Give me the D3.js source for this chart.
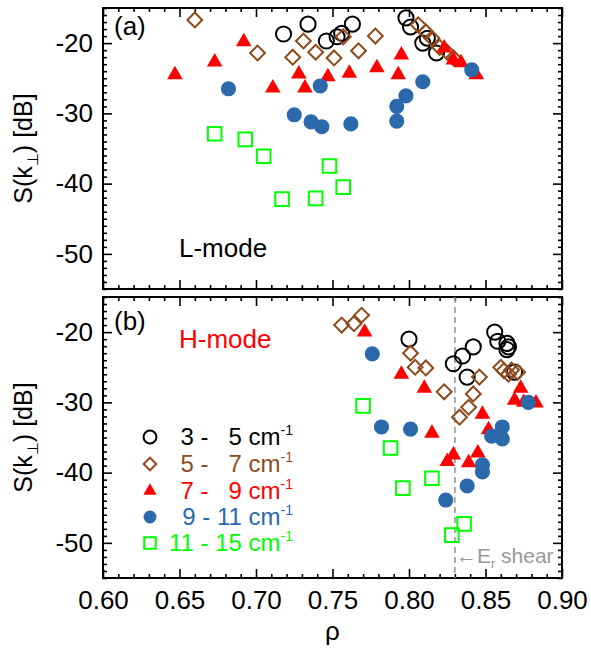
<!DOCTYPE html>
<html>
<head>
<meta charset="utf-8">
<script src="https://cdn.jsdelivr.net/npm/d3@7"></script>
<style>
  body { margin: 0; background: #fff; }
  text { font-family: "Liberation Sans", Arial, sans-serif; }
</style>
</head>
<body>
<div id="chart"></div>
<script>
// ---- data: panel (a) L-mode ----
const lRho_3_5 = [0.718, 0.734, 0.746, 0.753, 0.756, 0.763, 0.798, 0.801, 0.809, 0.812, 0.818];
const lS_3_5   = [-18.7, -17.3, -19.7, -19.1, -18.6, -17.3, -16.4, -17.7, -20.0, -19.3, -21.4];
const lRho_5_7 = [0.660, 0.701, 0.724, 0.731, 0.739, 0.751, 0.757, 0.767, 0.778, 0.806, 0.811, 0.815, 0.820, 0.825, 0.829];
const lS_5_7   = [-16.7, -21.4, -22.0, -19.7, -21.3, -22.1, -19.1, -21.1, -19.0, -17.4, -18.4, -19.3, -20.6, -21.3, -22.1];
const lRho_7_9 = [0.647, 0.673, 0.692, 0.711, 0.728, 0.732, 0.747, 0.761, 0.779, 0.795, 0.793, 0.823, 0.829, 0.834, 0.844];
const lS_7_9   = [-24.5, -22.7, -19.8, -26.4, -24.4, -26.4, -24.8, -24.3, -23.5, -21.7, -24.5, -20.7, -22.4, -22.8, -24.5];
const lRho_9_11 = [0.682, 0.725, 0.736, 0.743, 0.742, 0.762, 0.792, 0.792, 0.798, 0.809, 0.841];
const lS_9_11   = [-26.5, -30.2, -31.2, -31.9, -26.1, -31.5, -29.0, -31.1, -27.5, -25.5, -23.8];
const lRho_11_15 = [0.673, 0.693, 0.705, 0.717, 0.739, 0.748, 0.757];
const lS_11_15   = [-32.9, -33.7, -36.1, -42.2, -42.1, -37.5, -40.5];

// ---- data: panel (b) H-mode ----
const hRho_3_5 = [0.800, 0.829, 0.835, 0.842, 0.838, 0.856, 0.858, 0.864, 0.865, 0.864, 0.869];
const hS_3_5   = [-21.0, -24.5, -23.4, -22.1, -26.4, -20.0, -21.3, -21.6, -22.1, -22.5, -25.7];
const hRho_5_7 = [0.756, 0.764, 0.769, 0.801, 0.804, 0.811, 0.823, 0.833, 0.839, 0.842, 0.846, 0.860, 0.862, 0.865, 0.867, 0.871];
const hS_5_7   = [-19.0, -18.8, -17.6, -23.0, -25.0, -25.1, -28.5, -32.1, -30.7, -28.8, -26.4, -25.0, -25.5, -26.0, -25.4, -25.7];
const hRho_7_9 = [0.771, 0.795, 0.810, 0.815, 0.848, 0.852, 0.825, 0.829, 0.839, 0.845, 0.869, 0.873, 0.875, 0.883];
const hS_7_9   = [-20.0, -26.0, -28.0, -34.4, -31.7, -33.9, -38.4, -37.5, -38.6, -37.2, -29.7, -28.0, -30.0, -30.1];
const hRho_9_11 = [0.776, 0.782, 0.801, 0.824, 0.838, 0.848, 0.848, 0.854, 0.861, 0.861, 0.878];
const hS_9_11   = [-23.1, -33.5, -33.8, -43.9, -41.9, -38.9, -39.9, -34.8, -33.5, -35.2, -30.0];
const hRho_11_15 = [0.770, 0.788, 0.796, 0.815, 0.836, 0.828];
const hS_11_15   = [-30.5, -36.5, -42.2, -40.8, -47.3, -48.9];

const bandLabels = ["3 -   5 cm", "5 -   7 cm", "7 -   9 cm", "9 - 11 cm", "11 - 15 cm"];
const xTicks = [0.60, 0.65, 0.70, 0.75, 0.80, 0.85, 0.90];
const yTicks = [-20, -30, -40, -50];
const erShearRho = 0.83;

const colors = ["#000000", "#8f4a1c", "#ff0000", "#2b69ab", "#00ff00"];
const shapes = ["circle", "diamond", "triangle", "disc", "square"];

const width = 591, height = 652;
const svg = d3.select("#chart").append("svg")
  .attr("width", width).attr("height", height)
  .style("background", "white");

const x = d3.scaleLinear().domain([0.60, 0.90]).range([103, 562]);
const yA = d3.scaleLinear().domain([-55, -15]).range([289, 8]);
const yB = d3.scaleLinear().domain([-55, -15]).range([578, 297]);

const minorX = d3.range(60, 91).map(d => d / 100).filter(d => Math.round(d * 100) % 5 !== 0);
const minorY = d3.range(-55, -14).filter(d => d % 10 !== 0);

function addAxis(g, gen, values, size, fmt) {
  const a = g.append("g").call(gen.tickValues(values).tickSize(size).tickSizeOuter(0).tickFormat(fmt));
  a.select(".domain").remove();
  a.selectAll("line").attr("stroke", "#000").attr("stroke-width", 1.6);
  a.selectAll("text").attr("font-size", 26).attr("fill", "#000")
    .style("font-family", '"Liberation Sans", Arial, sans-serif');
  return a;
}

function drawFrame(y, showXLabels) {
  const g = svg.append("g");
  const [y0, y1] = y.range();
  // bottom
  const b = g.append("g").attr("transform", `translate(0,${y0})`);
  addAxis(b, d3.axisBottom(x), xTicks, -9, showXLabels ? d3.format(".2f") : () => "");
  addAxis(b, d3.axisBottom(x), minorX, -4, () => "");
  if (showXLabels) b.selectAll("text").attr("y", 13).attr("dy", "0.71em");
  // top
  const t = g.append("g").attr("transform", `translate(0,${y1})`);
  addAxis(t, d3.axisTop(x), xTicks, -9, () => "");
  addAxis(t, d3.axisTop(x), minorX, -4, () => "");
  // left
  const l = g.append("g").attr("transform", `translate(${x.range()[0]},0)`);
  const la = addAxis(l, d3.axisLeft(y), yTicks, -9, d => String(d));
  la.selectAll("text").attr("x", -10);
  addAxis(l, d3.axisLeft(y), minorY, -4, () => "");
  // right
  const r = g.append("g").attr("transform", `translate(${x.range()[1]},0)`);
  addAxis(r, d3.axisRight(y), yTicks, -9, () => "");
  addAxis(r, d3.axisRight(y), minorY, -4, () => "");
  g.append("rect")
    .attr("x", x.range()[0]).attr("y", y1)
    .attr("width", x.range()[1] - x.range()[0]).attr("height", y0 - y1)
    .attr("fill", "none").attr("stroke", "#000").attr("stroke-width", 2);

  // y title
  const cy = (y0 + y1) / 2;
  const tt = svg.append("text")
    .attr("transform", `translate(32,${cy}) rotate(-90)`)
    .attr("text-anchor", "middle").attr("font-size", 25);
  tt.append("tspan").text("S(k");
  tt.append("tspan").attr("font-size", 15).attr("dy", 6).text("⊥");
  tt.append("tspan").attr("dy", -6).text(") [dB]");
}

function symbolPath(shape, big) {
  const s = big ? 1 : 0.85;
  if (shape === "circle" || shape === "disc") return d3.symbol(d3.symbolCircle, 180 * s * s)();
  if (shape === "triangle") return d3.symbol(d3.symbolTriangle, 105 * s * s)();
  if (shape === "square") return d3.symbol(d3.symbolSquare, 185 * s * s)();
  return d3.symbol(d3.symbolSquare, 110 * s * s)();
}

function drawSeries(y, rho, vals, i) {
  const shape = shapes[i];
  const filled = shape === "triangle" || shape === "disc";
  const rot = shape === "diamond" ? " rotate(45)" : "";
  svg.append("g").selectAll("path")
    .data(d3.zip(rho, vals))
    .join("path")
    .attr("d", symbolPath(shape, true))
    .attr("transform", d => `translate(${x(d[0])},${y(d[1])})${rot}`)
    .attr("fill", filled ? colors[i] : "none")
    .attr("stroke", filled ? "none" : colors[i])
    .attr("stroke-width", 2);
}

drawFrame(yA, false);
drawFrame(yB, true);

// Er shear marker in panel (b)
svg.append("line")
  .attr("x1", x(erShearRho)).attr("x2", x(erShearRho))
  .attr("y1", yB(-15)).attr("y2", yB(-55))
  .attr("stroke", "#999").attr("stroke-width", 1.6).attr("stroke-dasharray", "6,4");

const lSeries = [[lRho_3_5, lS_3_5], [lRho_5_7, lS_5_7], [lRho_7_9, lS_7_9], [lRho_9_11, lS_9_11], [lRho_11_15, lS_11_15]];
const hSeries = [[hRho_3_5, hS_3_5], [hRho_5_7, hS_5_7], [hRho_7_9, hS_7_9], [hRho_9_11, hS_9_11], [hRho_11_15, hS_11_15]];
lSeries.forEach((s, i) => drawSeries(yA, s[0], s[1], i));
hSeries.forEach((s, i) => drawSeries(yB, s[0], s[1], i));

// annotations
svg.append("text").attr("x", 114).attr("y", 35).attr("font-size", 26).text("(a)");
svg.append("text").attr("x", 114).attr("y", 330).attr("font-size", 26).text("(b)");
svg.append("text").attr("x", 179).attr("y", 257).attr("font-size", 26).text("L-mode");
svg.append("text").attr("x", 179).attr("y", 348).attr("font-size", 26).attr("fill", "#ff0000").text("H-mode");

const er = svg.append("text").attr("x", x(erShearRho) + 1).attr("y", 563)
  .attr("font-size", 21).attr("fill", "#999");
er.append("tspan").text("←E");
er.append("tspan").attr("font-size", 13).attr("dy", 5).text("r");
er.append("tspan").attr("dy", -5).text(" shear");

// x title
svg.append("text").attr("x", (x.range()[0] + x.range()[1]) / 2).attr("y", 640)
  .attr("text-anchor", "middle").attr("font-size", 26).text("ρ");

// legend
const legY = [437, 464, 491, 517, 543];
bandLabels.forEach((lab, i) => {
  const shape = shapes[i];
  const filled = shape === "triangle" || shape === "disc";
  const rot = shape === "diamond" ? " rotate(45)" : "";
  svg.append("path")
    .attr("d", symbolPath(shape, false))
    .attr("transform", `translate(150,${legY[i]})${rot}`)
    .attr("fill", filled ? colors[i] : "none")
    .attr("stroke", filled ? "none" : colors[i])
    .attr("stroke-width", 2);
  const t = svg.append("text")
    .attr("x", 293).attr("y", legY[i] + 8)
    .attr("text-anchor", "end").attr("font-size", 24)
    .attr("fill", colors[i])
    .attr("xml:space", "preserve").style("white-space", "pre");
  t.append("tspan").text(lab);
  t.append("tspan").attr("font-size", 14).attr("dy", -10).text("-1");
});
</script>
</body>
</html>
